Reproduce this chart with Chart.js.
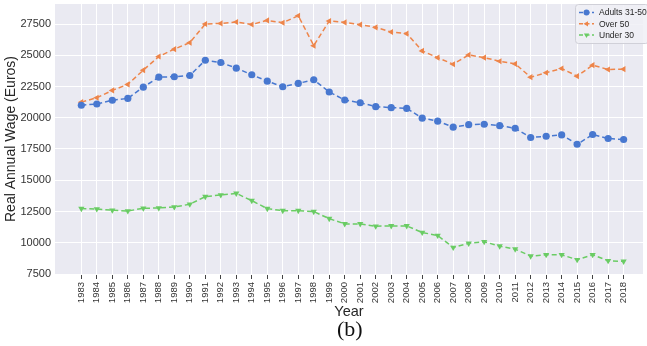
<!DOCTYPE html>
<html>
<head>
<meta charset="utf-8">
<script src="https://cdn.jsdelivr.net/npm/chart.js@4.4.0/dist/chart.umd.min.js"></script>
<style>
  html, body { margin: 0; padding: 0; background: #fff; }
  #wrap { position: relative; width: 647px; height: 346px; }
  #caption { position: absolute; left: 337px; top: 316px; font: 22px "Liberation Serif", serif; color: #111; }
</style>
</head>
<body>
<div id="wrap">
  <canvas id="wageChart" width="647" height="346"></canvas>
  <div id="caption">(b)</div>
</div>
<script>
// years on the x axis
var years = [1983,1984,1985,1986,1987,1988,1989,1990,1991,1992,1993,1994,1995,1996,1997,1998,1999,2000,
             2001,2002,2003,2004,2005,2006,2007,2008,2009,2010,2011,2012,2013,2014,2015,2016,2017,2018];

// real annual wage by age group (euros)
var adults3150 = [21000,21100,21400,21550,22450,23250,23280,23380,24600,24420,23970,23440,22930,22480,22750,23040,
                  22060,21420,21200,20890,20810,20750,19970,19730,19250,19450,19480,19370,19160,18420,18520,18630,
                  17880,18660,18340,18260];
var over50 = [21250,21600,22190,22670,23810,24900,25490,26010,27500,27550,27660,27460,27790,27600,28160,25770,
              27740,27630,27450,27230,26860,26730,25350,24810,24280,25030,24810,24520,24310,23250,23600,23940,
              23330,24210,23860,23890];
var under30 = [12730,12700,12600,12540,12760,12780,12860,13080,13690,13820,13950,13370,12730,12570,12570,12490,
               11930,11510,11510,11320,11350,11350,10820,10580,9620,9950,10080,9730,9490,8930,9040,9040,
               8640,9040,8560,8510];

var yTicks = [7500,10000,12500,15000,17500,20000,22500,25000,27500];

function toPoints(vals) {
	return years.map((y, i) => ({x: y, y: vals[i]}));
}

var blue = '#4878d0', orange = '#ee854a', green = '#6acc64';
var fontFam = '"Liberation Sans", Arial, sans-serif';

// plot background
var bgPlugin = {
	id: 'plotBg',
	beforeDraw(chart) {
		var a = chart.chartArea, ctx = chart.ctx;
		ctx.save();
		ctx.fillStyle = '#eaeaf2';
		ctx.fillRect(a.left, a.top, a.right - a.left, a.bottom - a.top);
		ctx.restore();
	}
};

// seaborn-like legend box in the upper right
var legendPlugin = {
	id: 'boxLegend',
	afterDraw(chart) {
		var ctx = chart.ctx;
		var x0 = 575, y0 = 4, w = 73, h = 39;
		ctx.save();
		ctx.fillStyle = 'rgba(240,240,246,0.85)';
		ctx.strokeStyle = '#d0d0d8';
		ctx.lineWidth = 1;
		ctx.beginPath();
		ctx.roundRect(x0 + 0.5, y0 + 0.5, w, h, 3);
		ctx.fill();
		ctx.stroke();
		chart.data.datasets.forEach((ds, i) => {
			var yy = y0 + 8.5 + i * 11.3;
			ctx.strokeStyle = ds.borderColor;
			ctx.lineWidth = 1.5;
			ctx.setLineDash([4, 2.5]);
			ctx.beginPath();
			ctx.moveTo(x0 + 4, yy);
			ctx.lineTo(x0 + 19, yy);
			ctx.stroke();
			ctx.setLineDash([]);
			ctx.fillStyle = ds.borderColor;
			Chart.helpers.drawPoint(ctx, {pointStyle: ds.pointStyle, rotation: ds.rotation, radius: 3, borderWidth: 0}, x0 + 11.5, yy);
			ctx.fillStyle = '#262626';
			ctx.font = '8.5px ' + fontFam;
			ctx.textBaseline = 'middle';
			ctx.fillText(ds.label, x0 + 24, yy + 0.5);
		});
		ctx.restore();
	}
};

function makeSet(label, vals, color, style, rot) {
	return {
		label: label,
		data: toPoints(vals),
		borderColor: color,
		backgroundColor: color,
		pointBackgroundColor: color,
		pointBorderColor: color,
		pointStyle: style,
		rotation: rot,
		pointRadius: 3.6,
		pointBorderWidth: 0,
		borderWidth: 1.5,
		borderDash: [5, 3],
		tension: 0,
		fill: false
	};
}

var ctx = document.getElementById('wageChart').getContext('2d');
var myChart = new Chart(ctx, {
	type: 'line',
	data: {
		datasets: [
			makeSet('Adults 31-50', adults3150, blue, 'circle', 0),
			makeSet('Over 50', over50, orange, 'triangle', -90),
			makeSet('Under 30', under30, green, 'triangle', 180)
		]
	},
	options: {
		responsive: false,
		animation: false,
		layout: { padding: { left: 4, right: 0, top: 3, bottom: 25 } },
		scales: {
			x: {
				type: 'linear',
				min: 1981.3,
				max: 2019.25,
				afterBuildTicks: axis => { axis.ticks = years.map(v => ({value: v})); },
				afterFit: axis => { axis.height = 47; axis.paddingLeft = 0; axis.paddingRight = 0; },
				grid: { color: '#ffffff', lineWidth: 1, tickColor: '#444', tickLength: 5, drawTicks: true },
				border: { display: false },
				ticks: {
					autoSkip: false,
					maxRotation: 90,
					minRotation: 90,
					padding: 3,
					color: '#333',
					font: { family: fontFam, size: 9.5 },
					callback: v => String(v)
				},
				title: {
					display: true,
					text: 'Year',
					color: '#262626',
					padding: { top: 0, bottom: 0 },
					font: { family: fontFam, size: 14.5 }
				}
			},
			y: {
				min: 7500,
				max: 29100,
				afterBuildTicks: axis => { axis.ticks = yTicks.map(v => ({value: v})); },
				afterFit: axis => { axis.width = 51; axis.paddingTop = 0; axis.paddingBottom = 0; },
				grid: { color: '#ffffff', lineWidth: 1, drawTicks: false },
				border: { display: false },
				ticks: {
					padding: 4,
					color: '#333',
					font: { family: fontFam, size: 11 },
					callback: v => String(v)
				},
				title: {
					display: true,
					text: 'Real Annual Wage (Euros)',
					color: '#262626',
					padding: { top: 0, bottom: 2.5 },
					font: { family: fontFam, size: 14, lineHeight: 1 }
				}
			}
		},
		plugins: {
			legend: { display: false },
			tooltip: { enabled: false }
		}
	},
	plugins: [bgPlugin, legendPlugin]
});
</script>
</body>
</html>
